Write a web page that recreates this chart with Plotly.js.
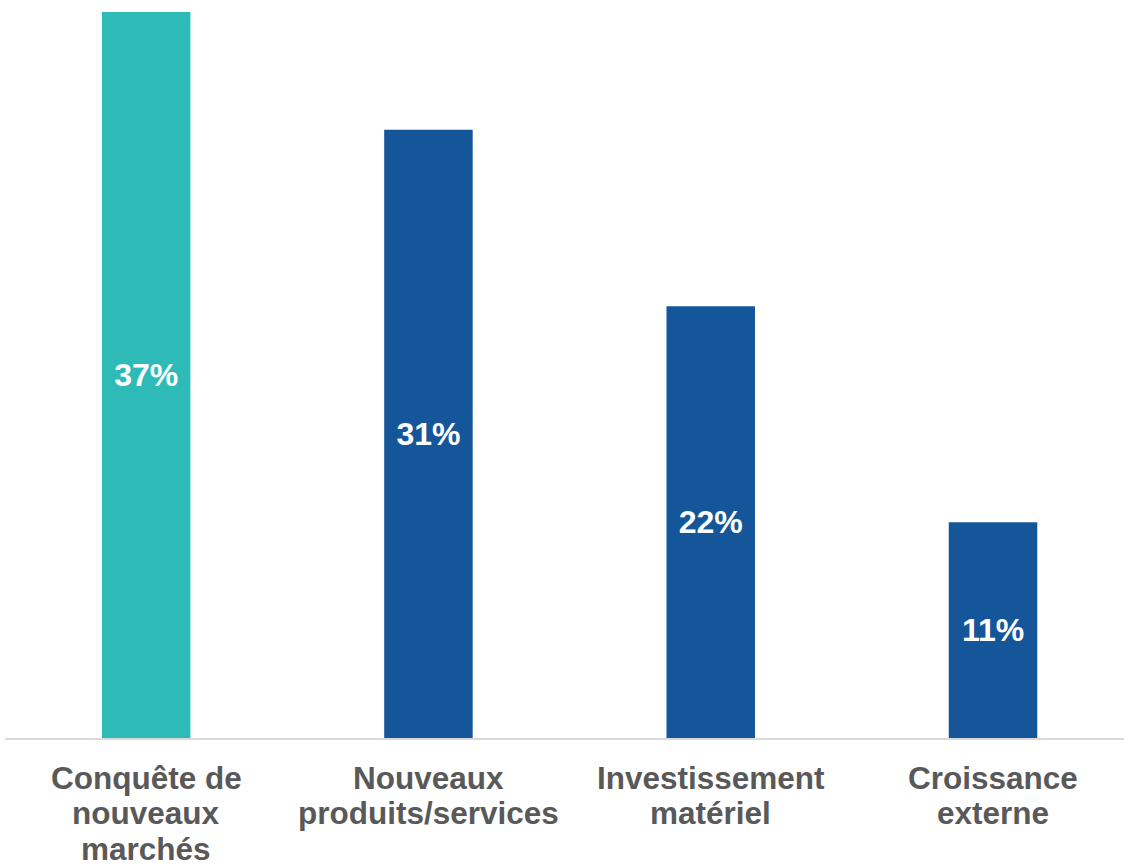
<!DOCTYPE html>
<html>
<head>
<meta charset="utf-8">
<script src="https://cdn.plot.ly/plotly-3.0.1.min.js"></script>
<style>html,body{margin:0;padding:0;background:#fff;}#chart{width:1124px;height:866px;}</style>
</head>
<body>
<div id="chart"></div>
<script>
const categories = ["Conquête de<br>nouveaux<br>marchés", "Nouveaux<br>produits/services", "Investissement<br>matériel", "Croissance<br>externe"];
const values = [37, 31, 22, 11];
const labels = ["37%", "31%", "22%", "11%"];
const barColors = ["#2EBBB8", "#15569A", "#15569A", "#15569A"];

const FONT = "Liberation Sans, Arial, sans-serif";

const trace = {
  type: "bar",
  x: [0, 1, 2, 3],
  y: values,
  text: labels,
  textposition: "inside",
  insidetextanchor: "middle",
  textangle: 0,
  textfont: {family: FONT, size: 32, color: "#ffffff", weight: "bold"},
  marker: {color: barColors, line: {width: 0}},
  width: 0.3135,
  hoverinfo: "none"
};

// category labels, one line per annotation for tighter line spacing
const annotations = [];
categories.forEach((cat, i) => {
  cat.split("<br>").forEach((line, j) => {
    annotations.push({
      xref: "x", yref: "paper",
      x: i, y: 0,
      yanchor: "middle", xanchor: "center",
      yshift: -39.5 - 35.5 * j,
      borderpad: 0,
      text: line,
      showarrow: false,
      font: {family: FONT, size: 31.5, color: "#595959", weight: "bold"}
    });
  });
});

const layout = {
  width: 1124,
  height: 866,
  margin: {l: 5, r: 0, t: 0, b: 128, pad: 0},
  paper_bgcolor: "#ffffff",
  plot_bgcolor: "#ffffff",
  showlegend: false,
  annotations: annotations,
  xaxis: {
    range: [-0.5, 3.464],
    tickvals: [0, 1, 2, 3],
    showticklabels: false,
    showline: true,
    linecolor: "#d9d9d9",
    linewidth: 1.5,
    ticks: "",
    showgrid: false,
    zeroline: false,
    fixedrange: true
  },
  yaxis: {
    range: [0, 37.61],
    showticklabels: false,
    showgrid: false,
    zeroline: false,
    showline: false,
    ticks: "",
    fixedrange: true
  }
};

Plotly.newPlot("chart", [trace], layout, {displayModeBar: false, staticPlot: true});
</script>
</body>
</html>
